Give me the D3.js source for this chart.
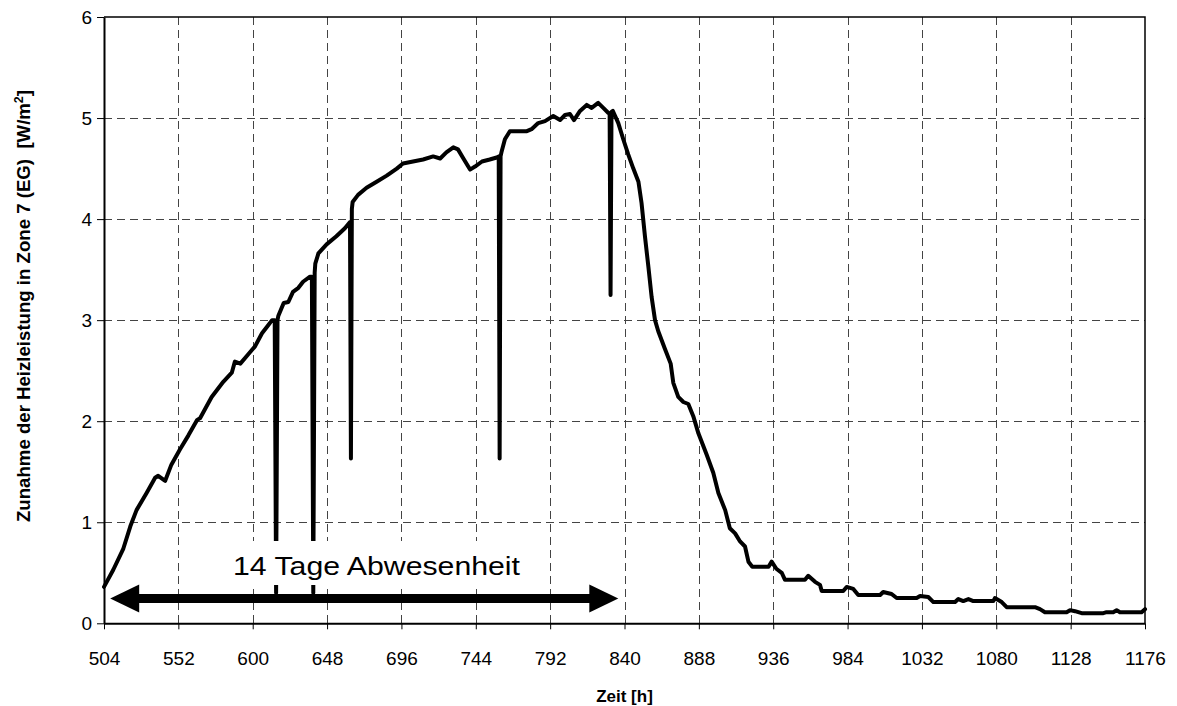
<!DOCTYPE html>
<html>
<head>
<meta charset="utf-8">
<script src="https://cdn.jsdelivr.net/npm/d3@7/dist/d3.min.js"></script>
<style>
  html, body { margin: 0; padding: 0; background: #fff; }
  svg { display: block; }
  text { font-family: "Liberation Sans", Arial, sans-serif; fill: #000; }
  .ytitle { white-space: pre; }
</style>
</head>
<body>
<svg id="chart" width="1177" height="706"></svg>
<script>
// Heating load increase in zone 7 (ground floor) over time
const hours = [
  504, 510, 516.5, 521, 525, 531.5, 537, 539, 543.5, 547.5, 553, 558.5, 564, 566,
  573.5, 581, 586.5, 588.5, 592, 597, 601.5, 606, 610, 612.5,
  614.2, 615.1, 616.0,
  616.5, 620, 623, 626, 629.5, 632.5, 637,
  638.2, 639.1, 640.0,
  640.4, 642.4, 647.7, 654, 659.5, 662.8,
  663.4, 664.0,
  664.5, 668, 673.5, 680, 686.5, 693, 697, 703.5, 710, 716.5, 721, 725, 729.5,
  732.5, 736, 740.3, 743.5, 748, 753, 757.5,
  758.8, 759.4, 760.0,
  760.7, 762.8, 766, 772.5, 777, 780, 784.3, 788.7, 794, 798.4, 801.6, 804.8,
  807.4, 811.3, 815.6, 818.8, 823, 826.3, 829.6,
  830.4, 831.0, 831.6,
  832.5, 836, 839.2, 842.4, 845.7, 849, 851, 853.2, 855.4, 857.5, 859.7, 861.8,
  866, 869.8, 871.5, 874.7, 878, 881.2, 884.4, 887.7, 893, 897.3, 900.6, 905,
  908, 911.4, 914.6, 917.8, 920, 922.5, 933, 935, 938, 941.5, 943.6, 956.5,
  958.6, 963, 966.2, 967.3, 981.2, 983.4, 987.7, 990.9, 1005, 1007, 1012.4,
  1015.7, 1028.6, 1030.8, 1036.1, 1039.4, 1053.4, 1055.5, 1058.7, 1062, 1065.2,
  1078.1, 1079.1, 1083.5, 1086.7, 1101.7, 1105, 1108.2, 1111.4, 1125.4, 1127.6,
  1130.8, 1135.1, 1149.1, 1151.2, 1155.5, 1157.7, 1159.8, 1173.8, 1176
];
const heatLoad = [
  0.36, 0.53, 0.74, 0.96, 1.12, 1.29, 1.44, 1.46, 1.41, 1.57, 1.72, 1.86, 2.01, 2.03,
  2.24, 2.39, 2.48, 2.59, 2.57, 2.66, 2.74, 2.87, 2.95, 3.00,
  3.00, 0.30, 3.00,
  3.04, 3.17, 3.18, 3.28, 3.32, 3.38, 3.43,
  3.43, 0.30, 3.47,
  3.56, 3.66, 3.75, 3.83, 3.91, 3.97,
  1.63, 4.10,
  4.17, 4.24, 4.31, 4.37, 4.43, 4.50, 4.55, 4.57, 4.59, 4.62, 4.60, 4.66, 4.71,
  4.69, 4.60, 4.49, 4.52, 4.57, 4.59, 4.61,
  4.62, 1.63, 4.62,
  4.67, 4.79, 4.87, 4.87, 4.87, 4.89, 4.95, 4.97, 5.02, 4.98, 5.03, 5.04,
  4.98, 5.07, 5.13, 5.10, 5.15, 5.10, 5.05,
  5.04, 3.25, 5.06,
  5.07, 4.95, 4.79, 4.64, 4.50, 4.37, 4.16, 3.83, 3.53, 3.23, 3.00, 2.89,
  2.72, 2.57, 2.38, 2.24, 2.19, 2.17, 2.05, 1.88, 1.67, 1.49, 1.29, 1.12,
  0.94, 0.89, 0.81, 0.76, 0.61, 0.56, 0.56, 0.61, 0.54, 0.50, 0.43, 0.43,
  0.47, 0.41, 0.38, 0.32, 0.32, 0.36, 0.34, 0.28, 0.28, 0.31, 0.29,
  0.25, 0.25, 0.27, 0.26, 0.21, 0.21, 0.24, 0.22, 0.24, 0.22,
  0.22, 0.25, 0.21, 0.16, 0.16, 0.16, 0.14, 0.11, 0.11, 0.13,
  0.12, 0.10, 0.10, 0.11, 0.11, 0.13, 0.11, 0.11, 0.14
];

const xTicks = [504, 552, 600, 648, 696, 744, 792, 840, 888, 936, 984, 1032, 1080, 1128, 1176];
const yTicks = [0, 1, 2, 3, 4, 5, 6];

// absence period annotation (double arrow), in data units
const absenceLabel = "14 Tage Abwesenheit";
const absenceStart = 508;
const absenceEnd = 836;
const absenceLevel = 0.245;

const xTitle = "Zeit [h]";
const yTitle = "Zunahme der Heizleistung in Zone 7 (EG)  [W/m";

const svg = d3.select("#chart");
const plotL = 104, plotR = 1145, plotT = 17, plotB = 623.3;

const x = d3.scaleLinear().domain([504, 1176]).range([plotL, plotR]);
const y = d3.scaleLinear().domain([0, 6]).range([plotB, plotT]);

// dashed grid
const grid = svg.append("g").attr("stroke", "#444").attr("stroke-width", 1)
  .attr("stroke-dasharray", "8,5").attr("fill", "none");
grid.selectAll("line.v").data(xTicks.slice(1, -1)).join("line")
  .attr("class", "v")
  .attr("x1", d => Math.round(x(d)) + 0.5).attr("x2", d => Math.round(x(d)) + 0.5)
  .attr("y1", plotT).attr("y2", plotB);
grid.selectAll("line.h").data(yTicks.slice(1, -1)).join("line")
  .attr("class", "h")
  .attr("y1", d => Math.round(y(d)) + 0.5).attr("y2", d => Math.round(y(d)) + 0.5)
  .attr("x1", plotL).attr("x2", plotR);

// plot frame (top and right)
svg.append("path")
  .attr("d", `M${plotL},${plotT}H${plotR}V${plotB}`)
  .attr("fill", "none").attr("stroke", "#000").attr("stroke-width", 1.5);

// data line
const series = hours.map((h, i) => [h, heatLoad[i]]);
svg.append("path")
  .datum(series)
  .attr("fill", "none")
  .attr("stroke", "#000")
  .attr("stroke-width", 4)
  .attr("stroke-linejoin", "round")
  .attr("stroke-linecap", "round")
  .attr("d", d3.line().x(d => x(d[0])).y(d => y(d[1])));

// annotation label with white backing
svg.append("rect")
  .attr("x", 228).attr("y", 541).attr("width", 302).attr("height", 44)
  .attr("fill", "#fff");
svg.append("text")
  .attr("x", 233).attr("y", 575)
  .attr("font-size", 26)
  .attr("textLength", 287)
  .attr("lengthAdjust", "spacingAndGlyphs")
  .text(absenceLabel);

// double-headed arrow
const ay = y(absenceLevel);
const ax0 = x(absenceStart), ax1 = x(absenceEnd);
const headLen = 29, headHalf = 14;
svg.append("line")
  .attr("x1", ax0 + headLen - 2).attr("x2", ax1 - headLen + 2)
  .attr("y1", ay).attr("y2", ay)
  .attr("stroke", "#000").attr("stroke-width", 9);
svg.append("path")
  .attr("d", `M${ax0},${ay}L${ax0 + headLen},${ay - headHalf}L${ax0 + headLen},${ay + headHalf}Z`)
  .attr("fill", "#000");
svg.append("path")
  .attr("d", `M${ax1},${ay}L${ax1 - headLen},${ay - headHalf}L${ax1 - headLen},${ay + headHalf}Z`)
  .attr("fill", "#000");

// axes
const xAxis = svg.append("g")
  .attr("transform", `translate(0,${plotB})`)
  .call(d3.axisBottom(x).tickValues(xTicks).tickSize(6).tickSizeOuter(0).tickPadding(22)
    .tickFormat(d3.format("d")));
xAxis.select(".domain").attr("stroke-width", 2);
xAxis.selectAll(".tick text").attr("font-size", 19).attr("font-family", null);

const yAxis = svg.append("g")
  .attr("transform", `translate(${plotL},0)`)
  .call(d3.axisLeft(y).tickValues(yTicks).tickSize(7).tickSizeOuter(0).tickPadding(5)
    .tickFormat(d3.format("d")));
yAxis.select(".domain").attr("stroke-width", 2);
yAxis.selectAll(".tick text").attr("font-size", 19).attr("font-family", null);

// axis titles
svg.append("text")
  .attr("x", (plotL + plotR) / 2).attr("y", 702)
  .attr("text-anchor", "middle")
  .attr("font-size", 17).attr("font-weight", "bold")
  .text(xTitle);

const yt = svg.append("text")
  .attr("class", "ytitle")
  .attr("transform", "translate(30,306) rotate(-90)")
  .attr("text-anchor", "middle")
  .attr("font-size", 18).attr("font-weight", "bold")
  .attr("textLength", 432).attr("lengthAdjust", "spacingAndGlyphs");
yt.append("tspan").text(yTitle);
yt.append("tspan").attr("font-size", 12).attr("dy", -7).text("2");
yt.append("tspan").attr("dy", 7).text("]");
</script>
</body>
</html>
